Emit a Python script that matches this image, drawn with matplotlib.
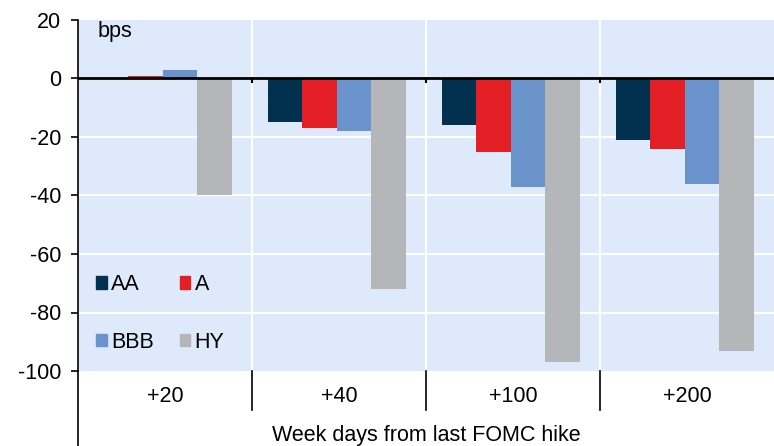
import matplotlib.pyplot as plt
from matplotlib.patches import Patch
import numpy as np

plt.rcParams['font.family'] = ['Liberation Sans', 'DejaVu Sans']
plt.rcParams['axes.unicode_minus'] = False

categorias = ["+20", "+40", "+100", "+200"]
series = ["AA", "A", "BBB", "HY"]
aa = [0, -15, -16, -21]
a = [1, -17, -25, -24]
bbb = [3, -18, -37, -36]
hy = [-40, -72, -97, -93]
colores = ["#02304F", "#E31E24", "#6A93CB", "#B5B6B9"]

W, H = 774, 446
fs = 15.5
fig = plt.figure(figsize=(W / 100, H / 100), dpi=100)
ax = fig.add_axes([78 / W, 75 / H, (774 - 78) / W, 351 / H])
ax.set_facecolor("#DEEAFB")

x = np.arange(len(categorias)) + 0.5
ancho = 0.198
valores = [aa, a, bbb, hy]
for i, (vals, col) in enumerate(zip(valores, colores)):
    ax.bar(x + (i - 1.5) * ancho - 0.012, vals, ancho, color=col, zorder=2)

ax.set_xlim(0, 4)
ax.set_ylim(-100, 20)
ax.set_yticks([20, 0, -20, -40, -60, -80, -100])
ax.set_xticks([])

# grid blanco
for yv in [-20, -40, -60, -80]:
    ax.axhline(yv, color="white", lw=1.5, zorder=1)
for xv in [1, 2, 3]:
    ax.axvline(xv, color="white", lw=1.5, zorder=1)
ax.axhline(0, color="black", lw=2, zorder=3)
for xv in [1, 2, 3]:
    ax.plot([xv, xv], [0, -1.3], color="black", lw=1.5, zorder=3)

for s in ["top", "right", "bottom"]:
    ax.spines[s].set_visible(False)
ax.spines["left"].set_linewidth(1.2)
ax.tick_params(axis="y", length=5, width=1.2, labelsize=fs, pad=7)

# eje de categorias debajo
trans = ax.get_xaxis_transform()
ax.plot([0, 0], [0, -75 / 351], color="black", lw=1.2, transform=trans, clip_on=False)
for xv in [1, 2, 3]:
    ax.plot([xv, xv], [0, -39 / 351], color="black", lw=1.2, transform=trans, clip_on=False)
for xi, cat in zip(x, categorias):
    ax.text(xi, -26 / 351, cat, transform=trans, ha="center", va="center", fontsize=fs)
ax.text(2, -64 / 351, "Week days from last FOMC hike", transform=trans,
        ha="center", va="center", fontsize=fs)

ax.text(0.11, 16.0, "bps", fontsize=fs, ha="left", va="center")

handles = [Patch(color=colores[k]) for k in [0, 2, 1, 3]]
etiquetas = [series[k] for k in [0, 2, 1, 3]]
ax.legend(handles, etiquetas, ncol=2, loc="upper left", bbox_to_anchor=(-0.002, 0.331),
          frameon=False, fontsize=fs, handlelength=0.5, handleheight=0.5,
          handletextpad=0.2, labelspacing=1.7, columnspacing=1.2)

fig.savefig("out.png", dpi=100)
